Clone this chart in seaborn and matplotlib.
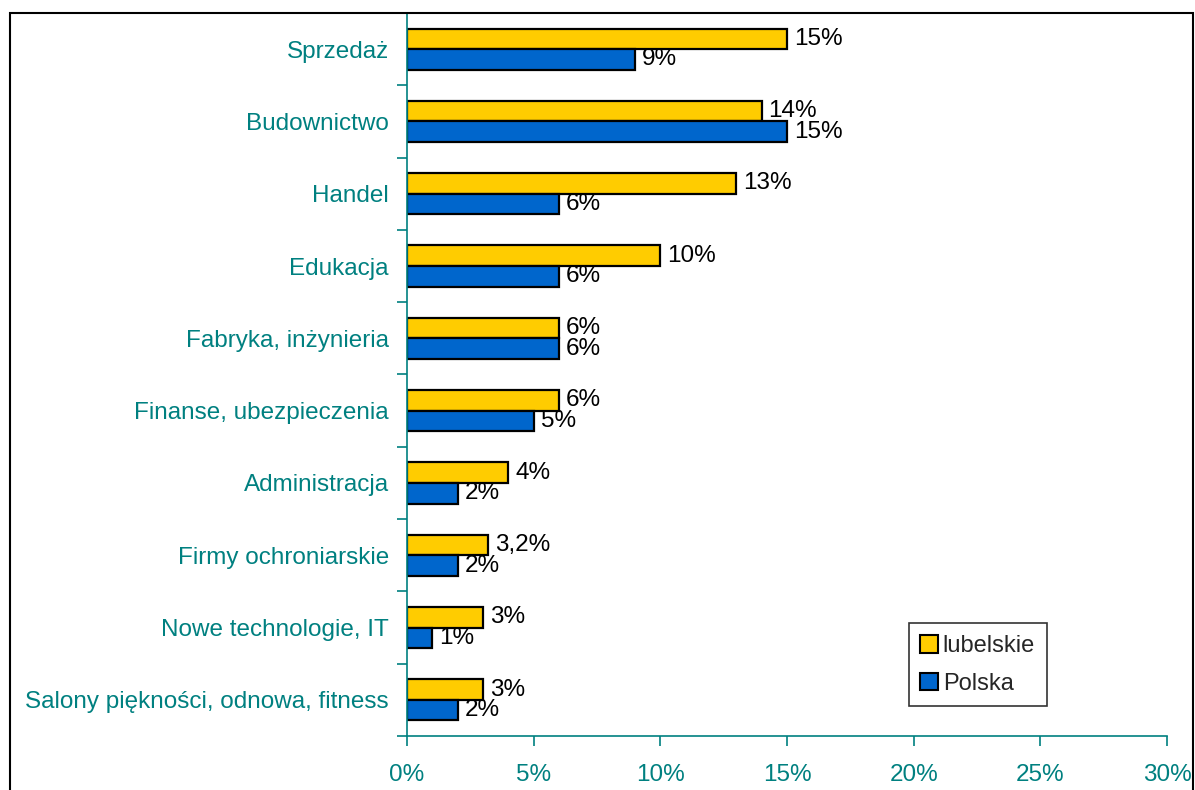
import pandas as pd
import matplotlib.pyplot as plt
import seaborn as sns
from matplotlib.patches import Rectangle

# Data
categories = ["Sprzedaż", "Budownictwo", "Handel", "Edukacja", "Fabryka, inżynieria",
              "Finanse, ubezpieczenia", "Administracja", "Firmy ochroniarskie",
              "Nowe technologie, IT", "Salony piękności, odnowa, fitness"]
lubelskie = [15, 14, 13, 10, 6, 6, 4, 3.2, 3, 3]
polska = [9, 15, 6, 6, 6, 5, 2, 2, 1, 2]
series_names = ["lubelskie", "Polska"]
xticks = [0, 5, 10, 15, 20, 25, 30]

teal = "#008080"
colors = ["#FFCC00", "#0066CC"]

df = pd.DataFrame({
    "kategoria": categories * 2,
    "wartosc": lubelskie + polska,
    "seria": [series_names[0]] * len(categories) + [series_names[1]] * len(categories),
})

sns.set_style("white")
plt.rcParams["font.family"] = ["Liberation Sans", "DejaVu Sans"]

fig = plt.figure(figsize=(11.95, 7.9), dpi=100)
ax = fig.add_axes([407 / 1195, 1 - 736 / 790, 760 / 1195, 723 / 790])

# Outer frame around the chart area
fig.patches.append(Rectangle((10 / 1195, -0.05), 1183 / 1195, 1 - 13 / 790 + 0.05,
                             transform=fig.transFigure, fill=False,
                             edgecolor="black", linewidth=1.5, zorder=0))

sns.barplot(data=df, y="kategoria", x="wartosc", hue="seria", orient="h",
            palette=colors, saturation=1, width=0.57, edgecolor="black",
            linewidth=1.6, ax=ax, legend=True)

# Value labels
for cont, vals in zip(ax.containers, [lubelskie, polska]):
    labels = [(f"{v:g}".replace(".", ",") + "%") for v in vals]
    ax.bar_label(cont, labels=labels, padding=5, fontsize=17.5, color="black")

ax.set_xlim(0, 30)
ax.set_ylim(len(categories) - 0.5, -0.5)
ax.set_xticks(xticks)
ax.set_xticklabels([f"{t}%" for t in xticks], color=teal, fontsize=17.5)
ax.set_yticks(range(len(categories)))
ax.set_yticklabels(categories, color=teal, fontsize=17.5)
ax.set_yticks([i - 0.5 for i in range(len(categories) + 1)], minor=True)
ax.tick_params(axis="y", which="major", length=0, pad=13)
ax.tick_params(axis="y", which="minor", length=7, color=teal, width=1.2, left=True)
ax.tick_params(axis="x", length=7, color=teal, width=1.2, bottom=True, pad=13)
ax.set_xlabel("")
ax.set_ylabel("")

for side in ["top", "right"]:
    ax.spines[side].set_visible(False)
for side in ["left", "bottom"]:
    ax.spines[side].set_color(teal)
    ax.spines[side].set_linewidth(1.2)

leg = ax.legend(loc="lower left", bbox_to_anchor=(0.66, 0.041), fontsize=17,
                frameon=True, fancybox=False, edgecolor="black",
                handlelength=0.75, handleheight=0.75, handletextpad=0.2,
                labelspacing=0.65, borderpad=0.5, borderaxespad=0)
leg.get_frame().set_linewidth(1.2)
for h in leg.legend_handles:
    h.set_edgecolor("black")
    h.set_linewidth(1.5)

fig.savefig("out.png", dpi=100)
